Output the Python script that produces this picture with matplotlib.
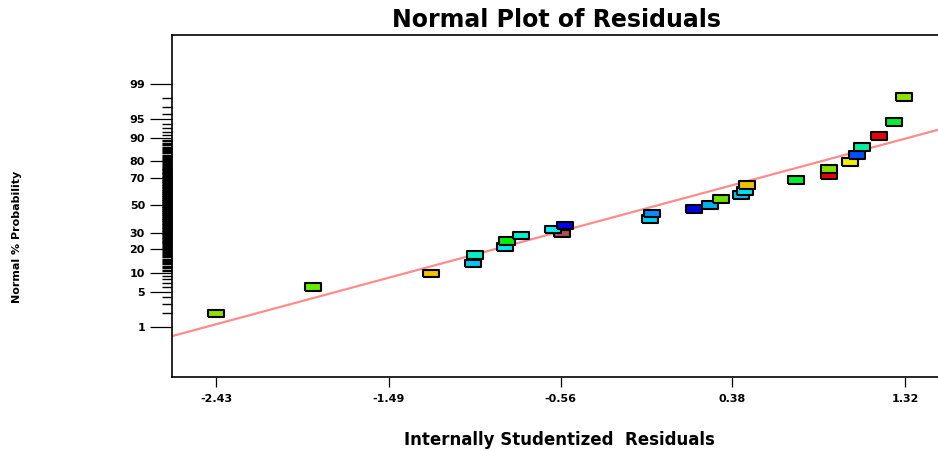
from statistics import NormalDist
import numpy as np
import matplotlib.pyplot as plt

# residuals, sorted by normal % probability
residuals = [-2.43, -1.90, -1.26, -1.03, -1.02, -0.855, -0.847, -0.77, -0.548,
             -0.597, -0.53, -0.067, -0.055, 0.174, 0.261, 0.317, 0.428, 0.45,
             0.462, 0.725, 0.905, 0.905, 1.021, 1.061, 1.085, 1.181, 1.259, 1.317]
probability = [1.95, 5.9, 9.7, 13.4, 17.3, 21.3, 24.8, 28.4, 29.7,
               32.4, 35.2, 39.6, 43.8, 47.1, 50.4, 54.7, 57.7, 61.0,
               65.3, 68.7, 72.0, 75.8, 79.8, 83.2, 86.7, 90.8, 94.5, 98.1]
colors = ['#8fe000', '#66ee00', '#f5c000', '#00c8f0', '#00f0c8', '#00e8f0', '#00ee00',
          '#00f0d0', '#b05050', '#00f0f0', '#0000ee', '#00d0f0', '#0090ff', '#0000e0',
          '#00b0f0', '#70e000', '#00c0f0', '#00e0f0', '#f0c000', '#00ee30', '#ee0000',
          '#80e000', '#f0f000', '#0050ff', '#00f0a0', '#ee0000', '#00ee30', '#90e000']

ytick_pct = [1, 5, 10, 20, 30, 50, 70, 80, 90, 95, 99]
xtick_vals = [-2.43, -1.49, -0.555, 0.38, 1.32]
xtick_labels = ['-2.43', '-1.49', '-0.56', '0.38', '1.32']

# reference line (centre, spread)
line_center = -0.03
line_sd = 1.057

ppf = NormalDist().inv_cdf
z = [ppf(p / 100) for p in probability]

fig = plt.figure(figsize=(9.38, 4.5), dpi=100)
ax = fig.add_axes([0.1834, 0.1622, 0.8166, 0.76])

# fitted normal line
xl = np.array([-2.67, 1.50])
ax.plot(xl, (xl - line_center) / line_sd, color='#ff8c8c', lw=1.6, zorder=2)

# rectangular markers
box = [(-1, -0.48), (1, -0.48), (1, 0.48), (-1, 0.48), (-1, -0.48)]
ax.scatter(residuals, z, marker=box, s=11.5 ** 2, c=colors,
           edgecolors='black', linewidths=1.5, zorder=3)

ax.set_xlim(-2.67, 1.50)
ax.set_ylim(-3.28, 3.26)

ax.set_xticks(xtick_vals)
ax.set_xticklabels(xtick_labels, fontsize=8, fontweight='bold')
ax.set_yticks([ppf(p / 100) for p in ytick_pct])
ax.set_yticklabels([str(p) for p in ytick_pct], fontsize=8, fontweight='bold')

minor = list(range(1, 10)) + list(np.arange(10, 90.5, 0.5)) + list(range(91, 100))
minor = [m for m in minor if m not in ytick_pct]
ax.set_yticks([ppf(m / 100) for m in minor], minor=True)

ax.tick_params(axis='y', which='major', length=15.5, width=0.9, pad=4)
ax.tick_params(axis='y', which='minor', length=7.5, width=1.0)
ax.tick_params(axis='x', which='major', length=7, width=0.9, pad=5)

ax.spines['right'].set_visible(False)
for s in ['top', 'left', 'bottom']:
    ax.spines[s].set_linewidth(1.2)

fig.text(0.593, 0.956, 'Normal Plot of Residuals', ha='center', va='center',
         fontsize=17, fontweight='bold')
fig.text(0.596, 0.022, 'Internally Studentized  Residuals', ha='center', va='center',
         fontsize=12, fontweight='bold')
fig.text(0.018, 0.473, 'Normal % Probability', ha='center', va='center',
         rotation=90, fontsize=8, fontweight='bold')

fig.savefig('out.png', dpi=100)
